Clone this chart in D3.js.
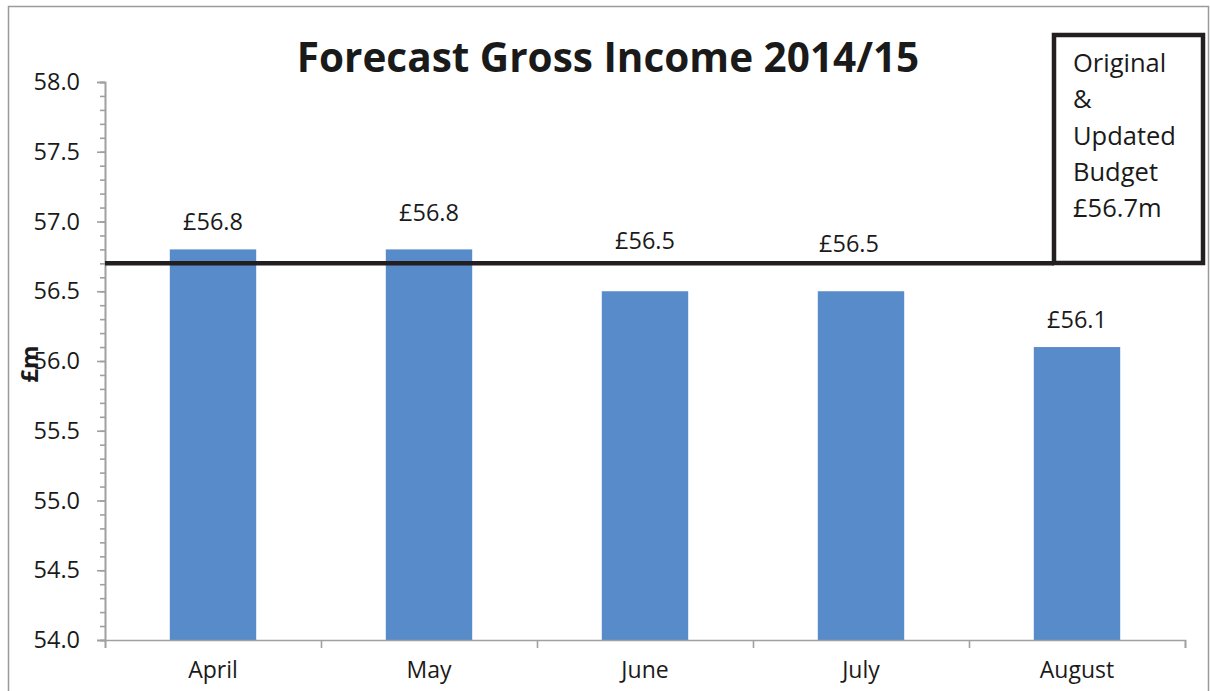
<!DOCTYPE html>
<html>
<head>
<meta charset="utf-8">
<script src="https://cdn.jsdelivr.net/npm/d3@7"></script>
<style>
  body { margin: 0; background: #fff; }
  text { font-family: "Open Sans", Lato, sans-serif; fill: #1a1a1a; }
</style>
</head>
<body>
<script>
// data
let months = ["April", "May", "June", "July", "August"]
let income = [56.8, 56.8, 56.5, 56.5, 56.1]
let budget = 56.7
let yTicks = [54.0, 54.5, 55.0, 55.5, 56.0, 56.5, 57.0, 57.5, 58.0]
let budgetNote = ["Original", "&", "Updated", "Budget", "£56.7m"]
// labels were nudged by hand in the original
let labelLift = [19, 28, 42, 39, 19]
let labelShift = [0, 0, 0, -12, 0]

let width = 1210
let height = 691
let axisColor = "#a0a0a0"

let svg = d3.select("body").append("svg")
    .attr("width", width)
    .attr("height", height)

// outer frame
svg.append("rect")
    .attr("x", 8.5).attr("y", 6.5)
    .attr("width", 1200).attr("height", 700)
    .attr("fill", "none")
    .attr("stroke", "#9a9a9a")
    .attr("stroke-width", 1.5)

let x = d3.scaleBand()
    .domain(months)
    .range([105, 1185])
    .paddingInner(0.6)
    .paddingOuter(0.3)

let y = d3.scaleLinear()
    .domain([54, 58])
    .range([640, 82])

// title
svg.append("text")
    .attr("x", 608).attr("y", 72)
    .attr("text-anchor", "middle")
    .style("font-size", "40.5px")
    .style("font-weight", "bold")
    .text("Forecast Gross Income 2014/15")

// bars
svg.selectAll(".bar")
    .data(income)
    .enter()
    .append("rect")
    .attr("class", "bar")
    .attr("x", (d, i) => x(months[i]))
    .attr("y", d => y(d))
    .attr("width", x.bandwidth())
    .attr("height", d => y(54) - y(d))
    .attr("fill", "#588bca")

// y axis, minor ticks then major
let minor = d3.range(540, 581).map(v => v / 10)
svg.append("g")
    .attr("transform", "translate(105,0)")
    .call(d3.axisLeft(y).tickValues(minor).tickSize(5).tickFormat(""))
svg.append("g")
    .attr("class", "yaxis")
    .attr("transform", "translate(105,0)")
    .call(d3.axisLeft(y).tickValues(yTicks).tickSize(8).tickPadding(17).tickFormat(d3.format(".1f")))
    .selectAll("text")
    .style("font-size", "23.5px")

// x axis: ticks on category boundaries
let edges = d3.scaleLinear().domain([0, months.length]).range([105, 1185])
svg.append("g")
    .attr("transform", "translate(0,640)")
    .call(d3.axisBottom(edges).tickValues(d3.range(months.length + 1)).tickSize(8).tickFormat(""))
svg.append("g")
    .attr("class", "xaxis")
    .attr("transform", "translate(0,640)")
    .call(d3.axisBottom(x).tickSize(0).tickPadding(22))
    .call(g => g.select(".domain").remove())
    .selectAll("text")
    .style("font-size", "23px")

svg.selectAll(".domain, .tick line")
    .attr("stroke", axisColor)
    .attr("stroke-width", 1.6)
svg.selectAll(".tick text").attr("fill", "#1a1a1a")

// y title
svg.append("text")
    .attr("transform", "translate(38,364) rotate(-90)")
    .attr("text-anchor", "middle")
    .style("font-size", "24px")
    .style("font-weight", "bold")
    .text("£m")

// value labels
svg.selectAll(".val")
    .data(income)
    .enter()
    .append("text")
    .attr("class", "val")
    .attr("x", (d, i) => x(months[i]) + x.bandwidth() / 2 + labelShift[i])
    .attr("y", (d, i) => y(d) - labelLift[i])
    .attr("text-anchor", "middle")
    .style("font-size", "23.5px")
    .text(d => "£" + d.toFixed(1))

// budget note box
let box = { x: 1054, y: 35, w: 149, h: 228 }
svg.append("line")
    .attr("x1", 105).attr("x2", box.x)
    .attr("y1", y(budget)).attr("y2", y(budget))
    .attr("stroke", "#231f20")
    .attr("stroke-width", 4.5)
svg.append("rect")
    .attr("x", box.x).attr("y", box.y)
    .attr("width", box.w).attr("height", box.h)
    .attr("fill", "#fff")
    .attr("stroke", "#231f20")
    .attr("stroke-width", 4.5)
svg.append("g")
    .selectAll("text")
    .data(budgetNote)
    .enter()
    .append("text")
    .attr("x", box.x + 19)
    .attr("y", (d, i) => 72 + i * 36.3)
    .style("font-size", "25.5px")
    .text(d => d)
</script>
</body>
</html>
